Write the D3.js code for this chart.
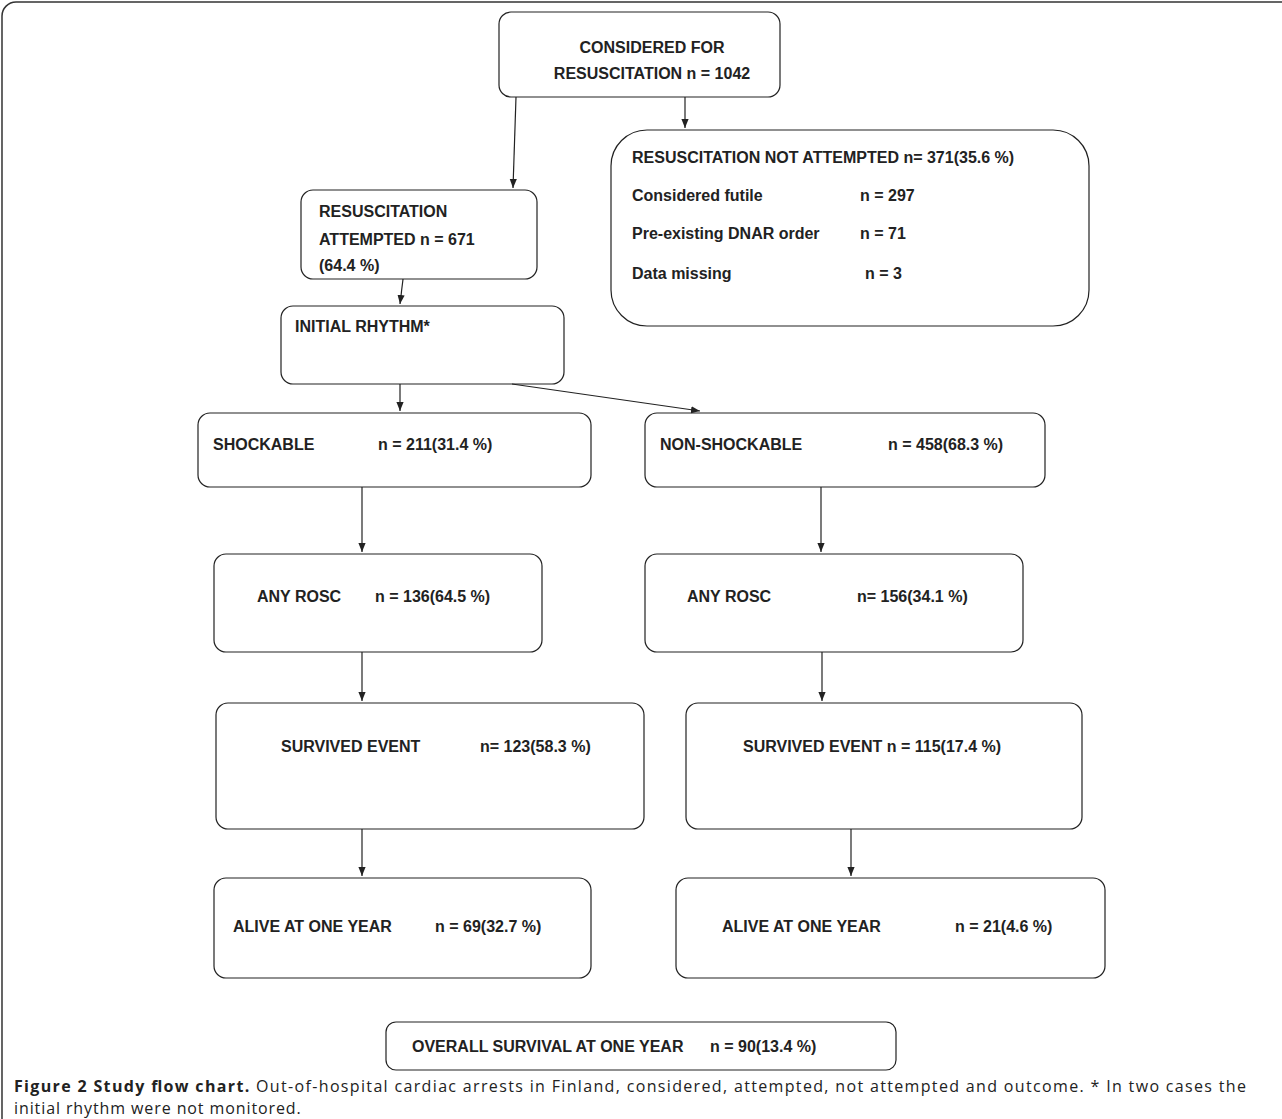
<!DOCTYPE html>
<html><head><meta charset="utf-8">
<script src="https://cdn.jsdelivr.net/npm/d3@7"></script>
<style>body{margin:0;background:#fff}</style>
</head><body>
<script>
// Box geometry + texts
const boxIds = ["top","notAtt","att","rhythm","shock","nonshock","roscL","roscR","survL","survR","aliveL","aliveR","overall"];
const boxRects = [
 [499,12,281,85,12],[611,130,478,196,36],[301,190,236,89,12],[281,306,283,78,12],
 [198,413,393,74,12],[645,413,400,74,12],[214,554,328,98,12],[645,554,378,98,12],
 [216,703,428,126,12],[686,703,396,126,12],[214,878,377,100,12],[676,878,429,100,12],[386,1022,510,48,10]];
// texts: [x, y, text, anchor]
const labels = [
 [652,47,"CONSIDERED FOR","middle"],[652,73,"RESUSCITATION n = 1042","middle"],
 [632,157,"RESUSCITATION NOT ATTEMPTED n= 371(35.6 %)","start"],
 [632,195,"Considered futile","start"],[860,195,"n = 297","start"],
 [632,233,"Pre-existing DNAR order","start"],[860,233,"n = 71","start"],
 [632,273,"Data missing","start"],[865,273,"n = 3","start"],
 [319,211,"RESUSCITATION","start"],[319,239,"ATTEMPTED n = 671","start"],[319,265,"(64.4 %)","start"],
 [295,326,"INITIAL RHYTHM*","start"],
 [213,444,"SHOCKABLE","start"],[378,444,"n = 211(31.4 %)","start"],
 [660,444,"NON-SHOCKABLE","start"],[888,444,"n = 458(68.3 %)","start"],
 [257,596,"ANY ROSC","start"],[375,596,"n = 136(64.5 %)","start"],
 [687,596,"ANY ROSC","start"],[857,596,"n= 156(34.1 %)","start"],
 [281,746,"SURVIVED EVENT","start"],[480,746,"n= 123(58.3 %)","start"],
 [743,746,"SURVIVED EVENT n = 115(17.4 %)","start"],
 [233,926,"ALIVE AT ONE YEAR","start"],[435,926,"n = 69(32.7 %)","start"],
 [722,926,"ALIVE AT ONE YEAR","start"],[955,926,"n = 21(4.6 %)","start"],
 [412,1046,"OVERALL SURVIVAL AT ONE YEAR","start"],[710,1046,"n = 90(13.4 %)","start"]];
const arrows = [[516,97,513,188],[685,97,685,128],[403,279,400,304],[400,384,400,411],[512,384,700,411],
 [362,487,362,552],[821,487,821,552],[362,652,362,701],[822,652,822,701],[362,829,362,876],[851,829,851,876]];

const svg = d3.select("body").append("svg").attr("width",1282).attr("height",1119);
svg.append("defs").append("marker").attr("id","ah").attr("viewBox","0 0 10 10")
 .attr("refX",10).attr("refY",5).attr("markerWidth",9).attr("markerHeight",9).attr("orient","auto")
 .attr("markerUnits","userSpaceOnUse")
 .append("path").attr("d","M0,1L10,5L0,9Z").attr("fill","#222");
svg.append("rect").attr("x",2).attr("y",2).attr("width",1300).attr("height",1130).attr("rx",14)
 .attr("fill","none").attr("stroke","#333").attr("stroke-width",1.5);
svg.selectAll("rect.b").data(boxRects).join("rect").attr("class","b")
 .attr("x",d=>d[0]).attr("y",d=>d[1]).attr("width",d=>d[2]).attr("height",d=>d[3]).attr("rx",d=>d[4])
 .attr("fill","#fff").attr("stroke","#222").attr("stroke-width",1.2);
svg.selectAll("line.a").data(arrows).join("line").attr("class","a")
 .attr("x1",d=>d[0]).attr("y1",d=>d[1]).attr("x2",d=>d[2]).attr("y2",d=>d[3])
 .attr("stroke","#222").attr("stroke-width",1.2).attr("marker-end","url(#ah)");
svg.selectAll("text.l").data(labels).join("text").attr("class","l")
 .attr("x",d=>d[0]).attr("y",d=>d[1]).attr("text-anchor",d=>d[3]).attr("dy","0.35em")
 .attr("font-family","'Liberation Sans', Arial, sans-serif").attr("font-weight","bold").attr("font-size",16)
 .attr("fill","#222").text(d=>d[2]);
const cap = svg.append("text").attr("x",14).attr("y",1092).attr("font-family","'Open Sans', sans-serif").attr("font-size",16).attr("fill","#222")
 .attr("textLength",1232).attr("lengthAdjust","spacing");
cap.append("tspan").attr("font-weight","bold").text("Figure 2 Study flow chart.");
cap.append("tspan").text(" Out-of-hospital cardiac arrests in Finland, considered, attempted, not attempted and outcome. * In two cases the");
svg.append("text").attr("x",14).attr("y",1114).attr("font-family","'Open Sans', sans-serif").attr("font-size",16).attr("fill","#222").attr("letter-spacing",0.9).text("initial rhythm were not monitored.");
</script>
</body></html>
